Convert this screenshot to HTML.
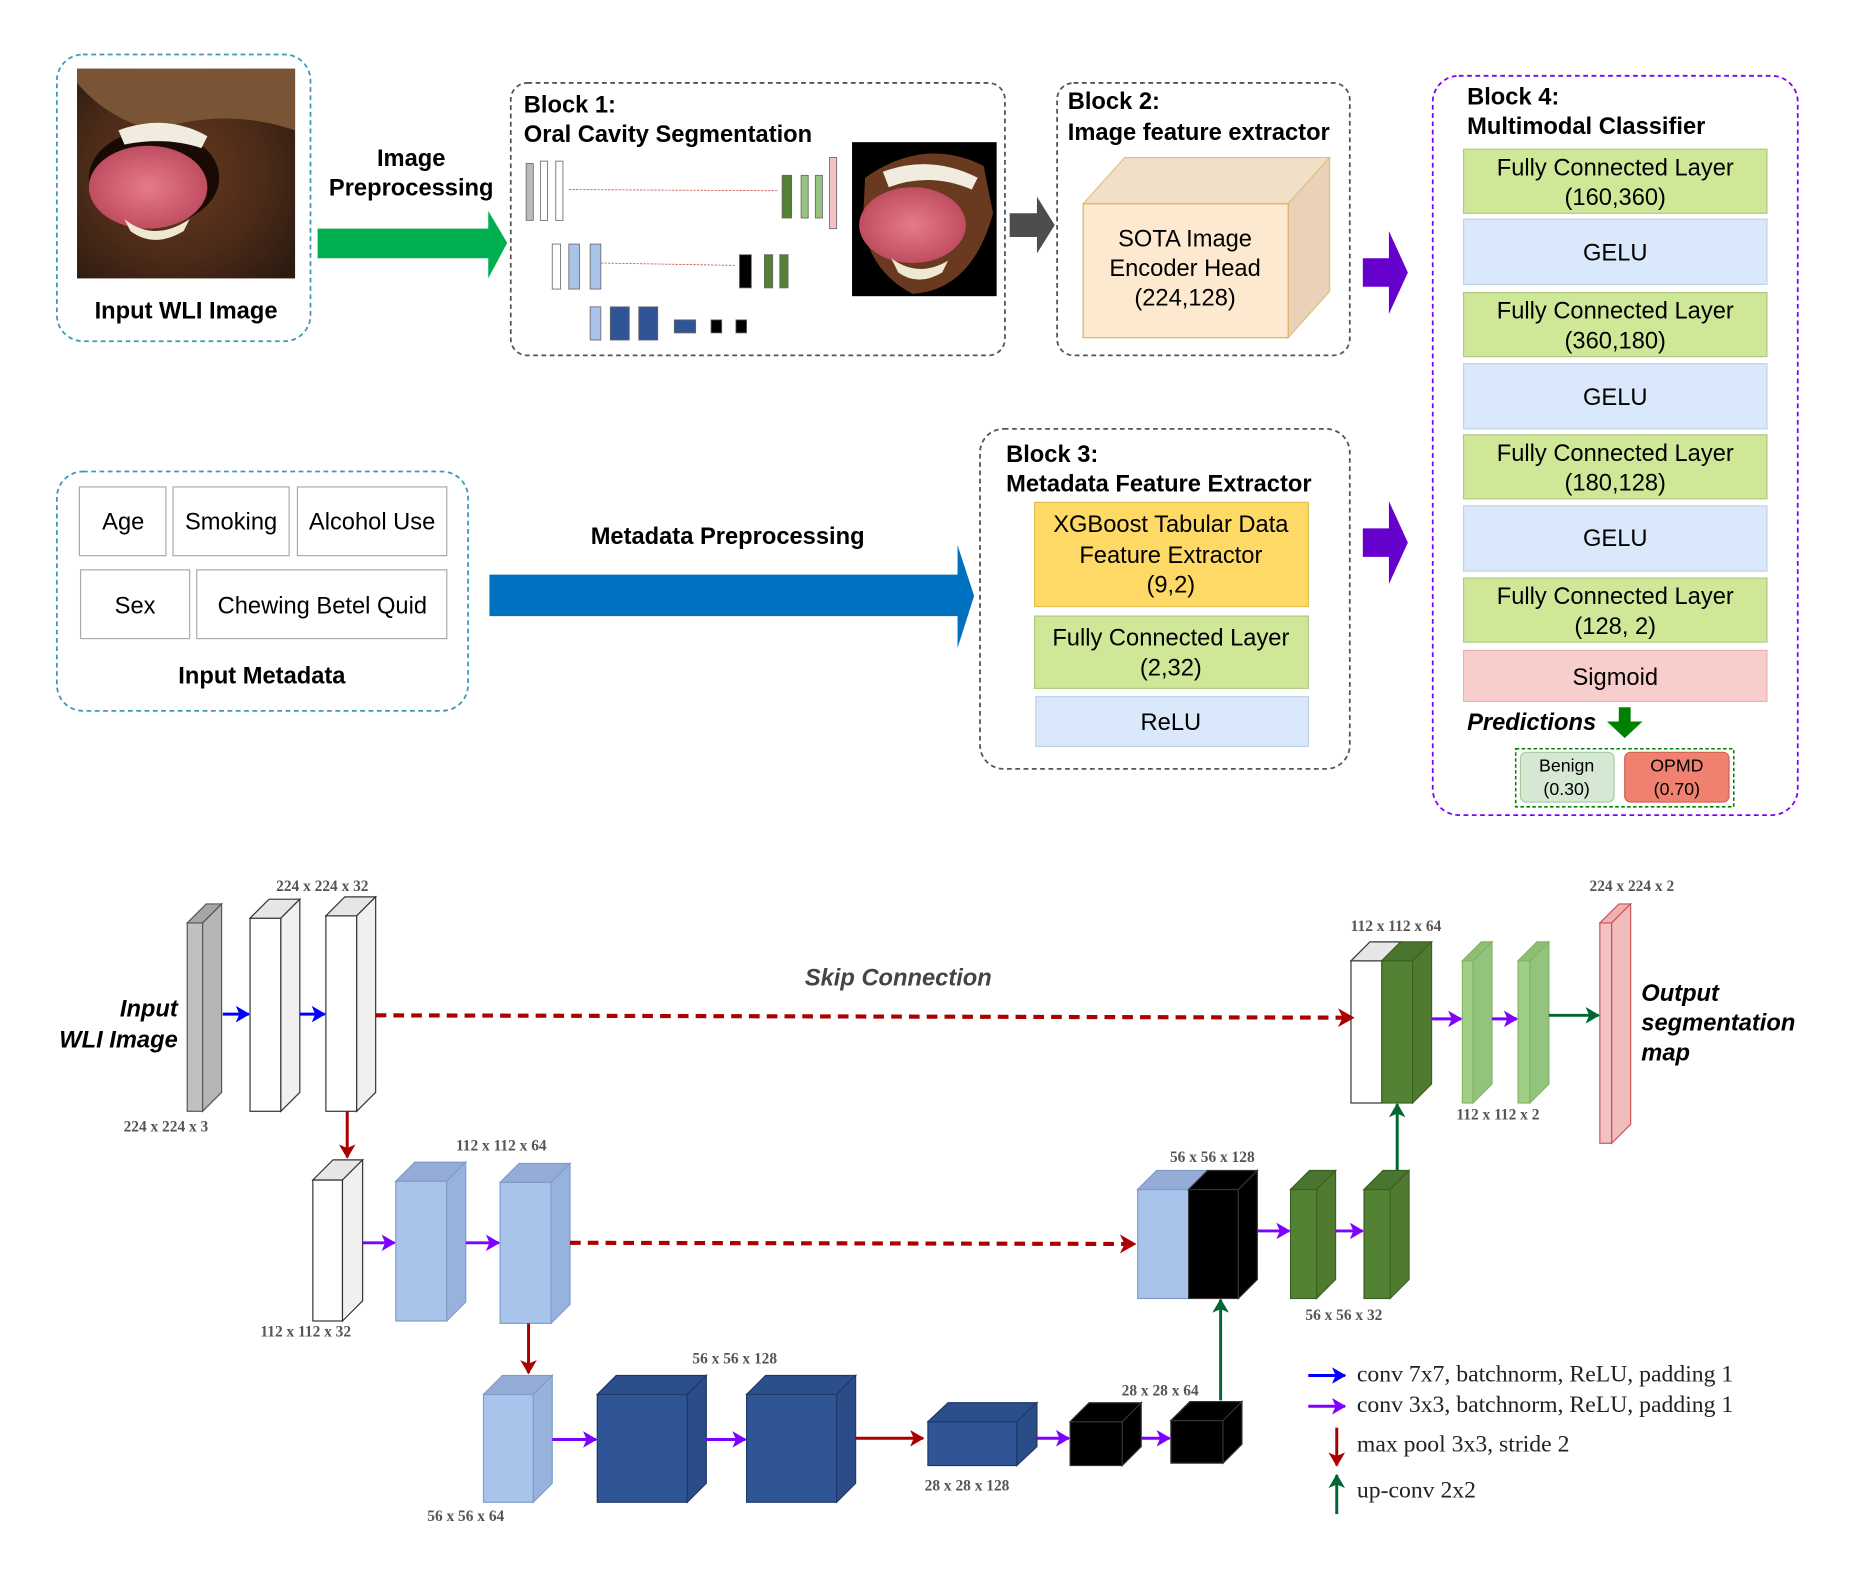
<!DOCTYPE html>
<html><head><meta charset="utf-8"><style>
html,body{margin:0;padding:0;background:#fff}
svg{display:block}
text{font-family:"Liberation Sans",sans-serif}
.t{font-size:20px;font-weight:bold;fill:#000}
.l{font-size:20px;fill:#000;text-anchor:middle}
.s{font-family:"Liberation Serif",serif;font-size:13px;fill:#555;text-anchor:middle;font-weight:bold}
.lg{font-family:"Liberation Serif",serif;font-size:20px;fill:#222}
</style></head><body>
<svg width="1857" height="1584" viewBox="0 0 1567 1337" preserveAspectRatio="none" xmlns="http://www.w3.org/2000/svg">
<defs>
<marker id="mr2" markerWidth="14" markerHeight="16" refX="13" refY="8" orient="auto" markerUnits="userSpaceOnUse"><path d="M0,0 L14,8 L0,16 L4,8 z" fill="#a00"/></marker>
<marker id="mb" markerWidth="12" markerHeight="14" refX="11" refY="7" orient="auto" markerUnits="userSpaceOnUse"><path d="M0,0 L12,7 L0,14 L3,7 z" fill="#00f"/></marker>
<marker id="mp" markerWidth="12" markerHeight="14" refX="11" refY="7" orient="auto" markerUnits="userSpaceOnUse"><path d="M0,0 L12,7 L0,14 L3,7 z" fill="#7f00ff"/></marker>
<marker id="md" markerWidth="12" markerHeight="14" refX="11" refY="7" orient="auto" markerUnits="userSpaceOnUse"><path d="M0,0 L12,7 L0,14 L3,7 z" fill="#a00"/></marker>
<marker id="mg" markerWidth="12" markerHeight="14" refX="11" refY="7" orient="auto" markerUnits="userSpaceOnUse"><path d="M0,0 L12,7 L0,14 L3,7 z" fill="#006633"/></marker>
<radialGradient id="face" cx="0.45" cy="0.5" r="0.7"><stop offset="0" stop-color="#6a3a20"/><stop offset="0.6" stop-color="#4a2a18"/><stop offset="1" stop-color="#2a1a10"/></radialGradient>
<radialGradient id="tongue" cx="0.5" cy="0.5" r="0.6"><stop offset="0" stop-color="#e77a8a"/><stop offset="1" stop-color="#b84558"/></radialGradient>
</defs>

<rect x="48" y="46" width="214" height="242" rx="22" fill="none" stroke="#3a9ab5" stroke-width="1.5" stroke-dasharray="4,3"/>
<rect x="65" y="58" width="184" height="177" fill="url(#face)"/>
<path d="M65,58 L249,58 L249,110 Q190,90 130,110 Q90,100 65,70z" fill="#7a5535"/>
<ellipse cx="130" cy="150" rx="55" ry="40" fill="#1a0a05"/>
<path d="M100,110 Q140,95 175,115 L170,125 Q140,115 105,122z" fill="#f0ece0"/>
<ellipse cx="125" cy="158" rx="50" ry="35" fill="url(#tongue)"/>
<path d="M105,185 Q130,205 160,185 L155,195 Q130,210 110,195z" fill="#efe8d0"/>
<text class="t" x="157" y="269" text-anchor="middle">Input WLI Image</text>

<text class="t" x="347" y="140" text-anchor="middle">Image</text>
<text class="t" x="347" y="165" text-anchor="middle">Preprocessing</text>
<path d="M268,193 L412,193 L412,178 L428,205 L412,235 L412,218 L268,218z" fill="#00b050"/>

<rect x="431" y="70" width="417" height="230" rx="14" fill="none" stroke="#555" stroke-width="1.5" stroke-dasharray="4,3"/>
<text class="t" x="442" y="95">Block 1:</text>
<text class="t" x="442" y="120">Oral Cavity Segmentation</text>
<g stroke="#666" stroke-width="0.7">
<rect x="444" y="138" width="6" height="48" fill="#bbb"/><rect x="456" y="136" width="6" height="50" fill="#fff"/><rect x="469" y="136" width="6" height="50" fill="#fff"/>
<rect x="466" y="206" width="7" height="38" fill="#fff"/><rect x="480" y="206" width="9" height="38" fill="#a9c4eb"/><rect x="498" y="206" width="9" height="38" fill="#a9c4eb"/>
<rect x="498" y="259" width="9" height="28" fill="#a9c4eb"/><rect x="515" y="259" width="16" height="28" fill="#2f5597"/><rect x="539" y="259" width="16" height="28" fill="#2f5597"/>
<rect x="569" y="270" width="18" height="11" fill="#2f5597"/><rect x="600" y="270" width="9" height="11" fill="#000"/><rect x="621" y="270" width="9" height="11" fill="#000"/>
<rect x="624" y="215" width="10" height="28" fill="#000"/><rect x="645" y="215" width="7" height="28" fill="#548235"/><rect x="658" y="215" width="7" height="28" fill="#548235"/>
<rect x="660" y="148" width="8" height="36" fill="#548235"/><rect x="676" y="148" width="6" height="36" fill="#97c47e"/><rect x="688" y="148" width="6" height="36" fill="#97c47e"/>
<rect x="700" y="133" width="6" height="60" fill="#f4c2c2"/>
</g>
<line x1="480" y1="160" x2="656" y2="161" stroke="#c55" stroke-width="0.7" stroke-dasharray="2,1"/>
<line x1="507" y1="222" x2="620" y2="224" stroke="#c55" stroke-width="0.7" stroke-dasharray="2,1"/>
<rect x="719" y="120" width="122" height="130" fill="#000"/>
<path d="M730,150 Q780,115 830,140 L838,180 Q820,245 770,248 Q735,230 728,190z" fill="#6a3a20"/>
<path d="M745,145 Q785,130 825,150 L820,160 Q785,145 750,158z" fill="#f0ece0"/>
<ellipse cx="770" cy="190" rx="45" ry="32" fill="url(#tongue)"/>
<path d="M752,218 Q775,235 800,220 L795,230 Q775,242 758,230z" fill="#efe8d0"/>

<path d="M852,180 L875,180 L875,166 L890,190 L875,214 L875,200 L852,200z" fill="#4d4d4d"/>

<rect x="892" y="70" width="247" height="230" rx="14" fill="none" stroke="#555" stroke-width="1.5" stroke-dasharray="4,3"/>
<text class="t" x="901" y="92">Block 2:</text>
<text class="t" x="901" y="118">Image feature extractor</text>
<path d="M914,172 L949,133 L1122,133 L1087,172z" fill="#f2dfc8" stroke="#e0c080"/>
<path d="M1087,172 L1122,133 L1122,246 L1087,285z" fill="#ead2b8" stroke="#e0c080"/>
<rect x="914" y="172" width="173" height="113" fill="#fde9cf" stroke="#e0b060"/>
<text class="l" x="1000" y="208">SOTA Image</text>
<text class="l" x="1000" y="233">Encoder Head</text>
<text class="l" x="1000" y="258">(224,128)</text>

<path d="M1150,218 L1172,218 L1172,195 L1188,230 L1172,265 L1172,242 L1150,242z" fill="#6600cc"/>
<path d="M1150,446 L1172,446 L1172,423 L1188,458 L1172,493 L1172,470 L1150,470z" fill="#6600cc"/>

<rect x="1209" y="64" width="308" height="624" rx="22" fill="none" stroke="#7f00ff" stroke-width="1.5" stroke-dasharray="4,3"/>
<text class="t" x="1238" y="88">Block 4:</text>
<text class="t" x="1238" y="113">Multimodal Classifier</text>
<g stroke="#b0c880" stroke-width="1">
<rect x="1235" y="126" width="256" height="54" fill="#cfe897"/>
<rect x="1235" y="247" width="256" height="54" fill="#cfe897"/>
<rect x="1235" y="367" width="256" height="54" fill="#cfe897"/>
<rect x="1235" y="488" width="256" height="54" fill="#cfe897"/>
</g>
<g stroke="#c0d0e8"><rect x="1235" y="185" width="256" height="55" fill="#dae8fc"/><rect x="1235" y="307" width="256" height="55" fill="#dae8fc"/><rect x="1235" y="427" width="256" height="55" fill="#dae8fc"/></g>
<rect x="1235" y="549" width="256" height="43" fill="#f8cecc" stroke="#e8b0b0"/>
<text class="l" x="1363" y="148">Fully Connected Layer</text><text class="l" x="1363" y="173">(160,360)</text>
<text class="l" x="1363" y="220">GELU</text>
<text class="l" x="1363" y="269">Fully Connected Layer</text><text class="l" x="1363" y="294">(360,180)</text>
<text class="l" x="1363" y="342">GELU</text>
<text class="l" x="1363" y="389">Fully Connected Layer</text><text class="l" x="1363" y="414">(180,128)</text>
<text class="l" x="1363" y="461">GELU</text>
<text class="l" x="1363" y="510">Fully Connected Layer</text><text class="l" x="1363" y="535">(128, 2)</text>
<text class="l" x="1363" y="578">Sigmoid</text>
<text x="1238" y="616" style="font-size:20px;font-weight:bold;font-style:italic">Predictions</text>
<path d="M1366,597 L1376,597 L1376,609 L1386,609 L1371,623 L1356,609 L1366,609z" fill="#008000"/>
<rect x="1279" y="632" width="184" height="49" fill="none" stroke="#008000" stroke-dasharray="3,2" stroke-width="1.3"/>
<rect x="1283" y="635" width="79" height="42" rx="5" fill="#d5e8d4" stroke="#a8c8a0"/>
<rect x="1371" y="635" width="88" height="42" rx="5" fill="#f08070" stroke="#d06050"/>
<text x="1322" y="651" style="font-size:15px" text-anchor="middle">Benign</text><text x="1322" y="671" style="font-size:15px" text-anchor="middle">(0.30)</text>
<text x="1415" y="651" style="font-size:15px" text-anchor="middle">OPMD</text><text x="1415" y="671" style="font-size:15px" text-anchor="middle">(0.70)</text>

<rect x="48" y="398" width="347" height="202" rx="22" fill="none" stroke="#3a9ab5" stroke-width="1.5" stroke-dasharray="4,3"/>
<g fill="#fff" stroke="#aaa"><rect x="67" y="411" width="73" height="58"/><rect x="146" y="411" width="98" height="58"/><rect x="251" y="411" width="126" height="58"/><rect x="68" y="481" width="92" height="58"/><rect x="166" y="481" width="211" height="58"/></g>
<text class="l" x="104" y="447">Age</text><text class="l" x="195" y="447">Smoking</text><text class="l" x="314" y="447">Alcohol Use</text>
<text class="l" x="114" y="518">Sex</text><text class="l" x="272" y="518">Chewing Betel Quid</text>
<text class="t" x="221" y="577" text-anchor="middle">Input Metadata</text>

<text class="t" x="614" y="459" text-anchor="middle">Metadata Preprocessing</text>
<path d="M413,485 L808,485 L808,460 L822,503 L808,547 L808,520 L413,520z" fill="#0070c0"/>

<rect x="827" y="362" width="312" height="287" rx="20" fill="none" stroke="#555" stroke-width="1.5" stroke-dasharray="4,3"/>
<text class="t" x="849" y="390">Block 3:</text>
<text class="t" x="849" y="415">Metadata Feature Extractor</text>
<rect x="873" y="424" width="231" height="88" fill="#ffd966" stroke="#e0c050"/>
<text class="l" x="988" y="449">XGBoost Tabular Data</text><text class="l" x="988" y="475">Feature Extractor</text><text class="l" x="988" y="500">(9,2)</text>
<rect x="873" y="520" width="231" height="61" fill="#cfe897" stroke="#b0c880"/>
<text class="l" x="988" y="545">Fully Connected Layer</text><text class="l" x="988" y="570">(2,32)</text>
<rect x="874" y="588" width="230" height="42" fill="#dae8fc" stroke="#c0d0e8"/>
<text class="l" x="988" y="616">ReLU</text>

<g stroke-width="1">
<g stroke="#555"><rect x="158" y="779" width="13" height="159" fill="#c0c0c0"/><polygon points="158,779 174,763 187,763 171,779" fill="#a6a6a6"/><polygon points="171,779 187,763 187,922 171,938" fill="#b5b5b5"/></g>
<g stroke="#333"><rect x="211" y="775" width="26" height="163" fill="#fff"/><polygon points="211,775 227,759 253,759 237,775" fill="#e6e6e6"/><polygon points="237,775 253,759 253,922 237,938" fill="#f0f0f0"/></g>
<g stroke="#333"><rect x="275" y="773" width="26" height="165" fill="#fff"/><polygon points="275,773 291,757 317,757 301,773" fill="#e6e6e6"/><polygon points="301,773 317,757 317,922 301,938" fill="#f0f0f0"/></g>
<g stroke="#333"><rect x="264" y="996" width="25" height="119" fill="#fff"/><polygon points="264,996 281,979 306,979 289,996" fill="#e6e6e6"/><polygon points="289,996 306,979 306,1098 289,1115" fill="#f0f0f0"/></g>
<g stroke="#7f9cc9"><rect x="334" y="997" width="43" height="118" fill="#a9c4eb"/><polygon points="334,997 350,981 393,981 377,997" fill="#95acd6"/><polygon points="377,997 393,981 393,1099 377,1115" fill="#97b2dd"/></g>
<g stroke="#7f9cc9"><rect x="422" y="998" width="43" height="119" fill="#a9c4eb"/><polygon points="422,998 438,982 481,982 465,998" fill="#95acd6"/><polygon points="465,998 481,982 481,1101 465,1117" fill="#97b2dd"/></g>
<g stroke="#7f9cc9"><rect x="408" y="1177" width="42" height="91" fill="#a9c4eb"/><polygon points="408,1177 424,1161 466,1161 450,1177" fill="#95acd6"/><polygon points="450,1177 466,1161 466,1252 450,1268" fill="#97b2dd"/></g>
<g stroke="#203864"><rect x="504" y="1177" width="76" height="91" fill="#2f5597"/><polygon points="504,1177 520,1161 596,1161 580,1177" fill="#2b4e8c"/><polygon points="580,1177 596,1161 596,1252 580,1268" fill="#2a4d8a"/></g>
<g stroke="#203864"><rect x="630" y="1177" width="76" height="91" fill="#2f5597"/><polygon points="630,1177 646,1161 722,1161 706,1177" fill="#2b4e8c"/><polygon points="706,1177 722,1161 722,1252 706,1268" fill="#2a4d8a"/></g>
<g stroke="#203864"><rect x="783" y="1200" width="75" height="37" fill="#2f5597"/><polygon points="783,1200 800,1184 875,1184 858,1200" fill="#2b4e8c"/><polygon points="858,1200 875,1184 875,1221 858,1237" fill="#2a4d8a"/></g>
<g stroke="#333"><rect x="903" y="1200" width="44" height="37" fill="#000"/><polygon points="903,1200 919,1184 963,1184 947,1200" fill="#000"/><polygon points="947,1200 963,1184 963,1221 947,1237" fill="#000"/></g>
<g stroke="#333"><rect x="988" y="1199" width="44" height="36" fill="#000"/><polygon points="988,1199 1004,1183 1048,1183 1032,1199" fill="#000"/><polygon points="1032,1199 1048,1183 1048,1219 1032,1235" fill="#000"/></g>
<g stroke="#7f9cc9"><rect x="960" y="1004" width="43" height="92" fill="#a9c4eb"/><polygon points="960,1004 976,988 1019,988 1003,1004" fill="#95acd6"/></g>
<g stroke="#333"><rect x="1003" y="1004" width="42" height="92" fill="#000"/><polygon points="1003,1004 1019,988 1061,988 1045,1004" fill="#000"/><polygon points="1045,1004 1061,988 1061,1080 1045,1096" fill="#000"/></g>
<g stroke="#3a6020"><rect x="1089" y="1004" width="22" height="92" fill="#548235"/><polygon points="1089,1004 1105,988 1127,988 1111,1004" fill="#4a7530"/><polygon points="1111,1004 1127,988 1127,1080 1111,1096" fill="#4f7a30"/></g>
<g stroke="#3a6020"><rect x="1151" y="1004" width="22" height="92" fill="#548235"/><polygon points="1151,1004 1167,988 1189,988 1173,1004" fill="#4a7530"/><polygon points="1173,1004 1189,988 1189,1080 1173,1096" fill="#4f7a30"/></g>
<g stroke="#333"><rect x="1140" y="811" width="26" height="120" fill="#fff"/><polygon points="1140,811 1156,795 1182,795 1166,811" fill="#e6e6e6"/></g>
<g stroke="#3a6020"><rect x="1166" y="811" width="26" height="120" fill="#548235"/><polygon points="1166,811 1182,795 1208,795 1192,811" fill="#4a7530"/><polygon points="1192,811 1208,795 1208,915 1192,931" fill="#4f7a30"/></g>
<g stroke="#82b366"><rect x="1234" y="811" width="9" height="120" fill="#9fcf85"/><polygon points="1234,811 1250,795 1259,795 1243,811" fill="#8fbf75"/><polygon points="1243,811 1259,795 1259,915 1243,931" fill="#93c47d"/></g>
<g stroke="#82b366"><rect x="1281" y="811" width="10" height="120" fill="#9fcf85"/><polygon points="1281,811 1297,795 1307,795 1291,811" fill="#8fbf75"/><polygon points="1291,811 1307,795 1307,915 1291,931" fill="#93c47d"/></g>
<g stroke="#c55"><rect x="1350" y="779" width="10" height="186" fill="#f4c2c2"/><polygon points="1350,779 1366,763 1376,763 1360,779" fill="#eeb0b0"/><polygon points="1360,779 1376,763 1376,949 1360,965" fill="#f0bcbc"/></g>
</g>

<g stroke-width="2.5" fill="none">
<line x1="188" y1="856" x2="210" y2="856" stroke="#00f" marker-end="url(#mb)"/>
<line x1="253" y1="856" x2="274" y2="856" stroke="#00f" marker-end="url(#mb)"/>
<line x1="306" y1="1049" x2="333" y2="1049" stroke="#7f00ff" marker-end="url(#mp)"/>
<line x1="393" y1="1049" x2="421" y2="1049" stroke="#7f00ff" marker-end="url(#mp)"/>
<line x1="466" y1="1215" x2="503" y2="1215" stroke="#7f00ff" marker-end="url(#mp)"/>
<line x1="596" y1="1215" x2="629" y2="1215" stroke="#7f00ff" marker-end="url(#mp)"/>
<line x1="875" y1="1214" x2="902" y2="1214" stroke="#7f00ff" marker-end="url(#mp)"/>
<line x1="963" y1="1214" x2="987" y2="1214" stroke="#7f00ff" marker-end="url(#mp)"/>
<line x1="1061" y1="1039" x2="1088" y2="1039" stroke="#7f00ff" marker-end="url(#mp)"/>
<line x1="1127" y1="1039" x2="1150" y2="1039" stroke="#7f00ff" marker-end="url(#mp)"/>
<line x1="1208" y1="860" x2="1233" y2="860" stroke="#7f00ff" marker-end="url(#mp)"/>
<line x1="1259" y1="860" x2="1280" y2="860" stroke="#7f00ff" marker-end="url(#mp)"/>
<line x1="1307" y1="857" x2="1349" y2="857" stroke="#006633" marker-end="url(#mg)"/>
<line x1="722" y1="1214" x2="779" y2="1214" stroke="#a00" marker-end="url(#md)"/>
<line x1="293" y1="938" x2="293" y2="977" stroke="#a00" marker-end="url(#md)"/>
<line x1="446" y1="1117" x2="446" y2="1159" stroke="#a00" marker-end="url(#md)"/>
<line x1="1030" y1="1182" x2="1030" y2="1097" stroke="#006633" marker-end="url(#mg)"/>
<line x1="1179" y1="988" x2="1179" y2="932" stroke="#006633" marker-end="url(#mg)"/>
<line x1="317" y1="857" x2="1142" y2="859" stroke="#a00" stroke-width="3.5" stroke-dasharray="9,6" marker-end="url(#mr2)"/>
<line x1="481" y1="1049" x2="958" y2="1050" stroke="#a00" stroke-width="3.5" stroke-dasharray="9,6" marker-end="url(#mr2)"/>
<line x1="1104" y1="1161" x2="1135" y2="1161" stroke="#00f" marker-end="url(#mb)"/>
<line x1="1104" y1="1187" x2="1135" y2="1187" stroke="#7f00ff" marker-end="url(#mp)"/>
<line x1="1128" y1="1205" x2="1128" y2="1237" stroke="#a00" marker-end="url(#md)"/>
<line x1="1128" y1="1278" x2="1128" y2="1245" stroke="#006633" marker-end="url(#mg)"/>
</g>
<text class="lg" x="1145" y="1166">conv 7x7, batchnorm, ReLU, padding 1</text>
<text class="lg" x="1145" y="1192">conv 3x3, batchnorm, ReLU, padding 1</text>
<text class="lg" x="1145" y="1225">max pool 3x3, stride 2</text>
<text class="lg" x="1145" y="1264">up-conv 2x2</text>

<text x="758" y="832" text-anchor="middle" style="font-size:20px;font-weight:bold;font-style:italic;fill:#444">Skip Connection</text>
<text x="150" y="858" text-anchor="end" style="font-size:20px;font-weight:bold;font-style:italic">Input</text>
<text x="150" y="884" text-anchor="end" style="font-size:20px;font-weight:bold;font-style:italic">WLI Image</text>
<text x="1385" y="845" style="font-size:20px;font-weight:bold;font-style:italic">Output</text>
<text x="1385" y="870" style="font-size:20px;font-weight:bold;font-style:italic">segmentation</text>
<text x="1385" y="895" style="font-size:20px;font-weight:bold;font-style:italic">map</text>

<text class="s" x="272" y="752">224 x 224 x 32</text>
<text class="s" x="140" y="955">224 x 224 x 3</text>
<text class="s" x="423" y="971">112 x 112 x 64</text>
<text class="s" x="258" y="1128">112 x 112 x 32</text>
<text class="s" x="620" y="1151">56 x 56 x 128</text>
<text class="s" x="393" y="1284">56 x 56 x 64</text>
<text class="s" x="816" y="1258">28 x 28 x 128</text>
<text class="s" x="979" y="1178">28 x 28 x 64</text>
<text class="s" x="1023" y="981">56 x 56 x 128</text>
<text class="s" x="1134" y="1114">56 x 56 x 32</text>
<text class="s" x="1178" y="786">112 x 112 x 64</text>
<text class="s" x="1264" y="945">112 x 112 x 2</text>
<text class="s" x="1377" y="752">224 x 224 x 2</text>
</svg>
</body></html>
